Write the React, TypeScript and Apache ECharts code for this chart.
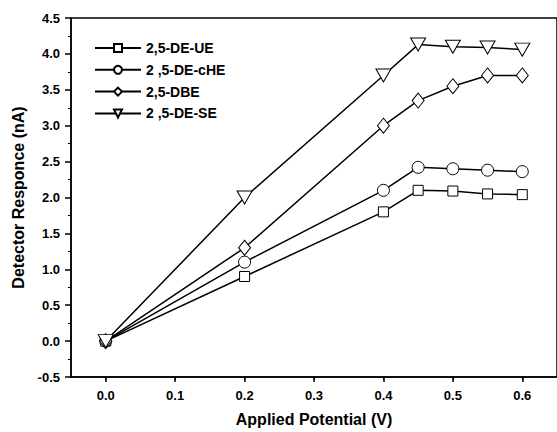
import React, { useEffect, useRef } from "react";
import * as echarts from "echarts";

const xValues = [0.0, 0.2, 0.4, 0.45, 0.5, 0.55, 0.6];
const xTickLabels = [0, 0.1, 0.2, 0.3, 0.4, 0.5, 0.6];
const seriesNames = ["2,5-DE-UE", "2 ,5-DE-cHE", "2,5-DBE", "2 ,5-DE-SE"];
const ueValues = [0, 0.9, 1.8, 2.1, 2.09, 2.05, 2.04];
const cheValues = [0, 1.1, 2.1, 2.42, 2.4, 2.38, 2.36];
const dbeValues = [0, 1.3, 3.0, 3.35, 3.55, 3.7, 3.7];
const seValues = [0, 2.0, 3.7, 4.13, 4.1, 4.09, 4.06];
const symbols = ["rect", "circle", "diamond", "path://M0,0 L10,0 L5,9 Z"];
const symbolSizes: any[] = [10, 12, [12, 15], [15, 13]];

export default function App() {
  const ref = useRef<HTMLDivElement>(null);
  useEffect(() => {
    const chart = echarts.init(ref.current!, null, { renderer: "svg" });
    const all = [ueValues, cheValues, dbeValues, seValues];
    const font = "Liberation Sans, Arial, sans-serif";
    chart.setOption({
      animation: false,
      backgroundColor: "#fff",
      grid: {
        left: 71,
        top: 18,
        right: -2,
        bottom: 52,
        show: true,
        borderColor: "#000",
        borderWidth: 1.5,
      },
      legend: {
        left: 94,
        top: 41,
        padding: 0,
        orient: "vertical",
        itemWidth: 46,
        itemHeight: 10,
        itemGap: 7.8,
        textStyle: { fontFamily: font, fontWeight: "bold", fontSize: 14, lineHeight: 12, color: "#000" },
        data: seriesNames,
      },
      xAxis: {
        type: "value",
        min: -0.05,
        max: 0.65,
        interval: 0.1,
        name: "Applied Potential (V)",
        nameLocation: "middle",
        nameGap: 34,
        nameTextStyle: { fontFamily: font, fontWeight: "bold", fontSize: 16, color: "#000" },
        axisLine: { onZero: false, lineStyle: { color: "#000", width: 1.5 } },
        axisTick: { show: true, length: 5, lineStyle: { color: "#000", width: 1.5 }, customValues: xTickLabels },
        minorTick: { show: true, splitNumber: 2, length: 3, lineStyle: { color: "#000", width: 1 } },
        axisLabel: {
          fontFamily: font,
          fontWeight: "bold",
          fontSize: 13,
          color: "#000",
          margin: 12,
          customValues: xTickLabels,
          formatter: (v: number) => v.toFixed(1),
        },
        splitLine: { show: false },
      },
      yAxis: {
        type: "value",
        min: -0.5,
        max: 4.5,
        interval: 0.5,
        name: "Detector Responce (nA)",
        nameLocation: "middle",
        nameGap: 45,
        nameTextStyle: { fontFamily: font, fontWeight: "bold", fontSize: 16, color: "#000" },
        axisLine: { onZero: false, lineStyle: { color: "#000", width: 1.5 } },
        axisTick: { show: true, length: 6, lineStyle: { color: "#000", width: 1.5 } },
        minorTick: { show: true, splitNumber: 2, length: 3, lineStyle: { color: "#000", width: 1 } },
        axisLabel: {
          fontFamily: font,
          fontWeight: "bold",
          fontSize: 13,
          color: "#000",
          margin: 11,
          formatter: (v: number) => v.toFixed(1),
        },
        splitLine: { show: false },
      },
      series: seriesNames.map((name, i) => ({
        name,
        type: "line",
        data: xValues.map((x, j) => [x, all[i][j]]),
        symbol: symbols[i],
        symbolSize: symbolSizes[i],
        showAllSymbol: true,
        z: 2 + i,
        lineStyle: { color: "#000", width: 1.5 },
        itemStyle: { color: "#fff", borderColor: "#000", borderWidth: 1 },
      })),
    });
    return () => chart.dispose();
  }, []);
  return <div ref={ref} style={{ width: 557, height: 432, position: "absolute", left: 0, top: 0 }} />;
}
